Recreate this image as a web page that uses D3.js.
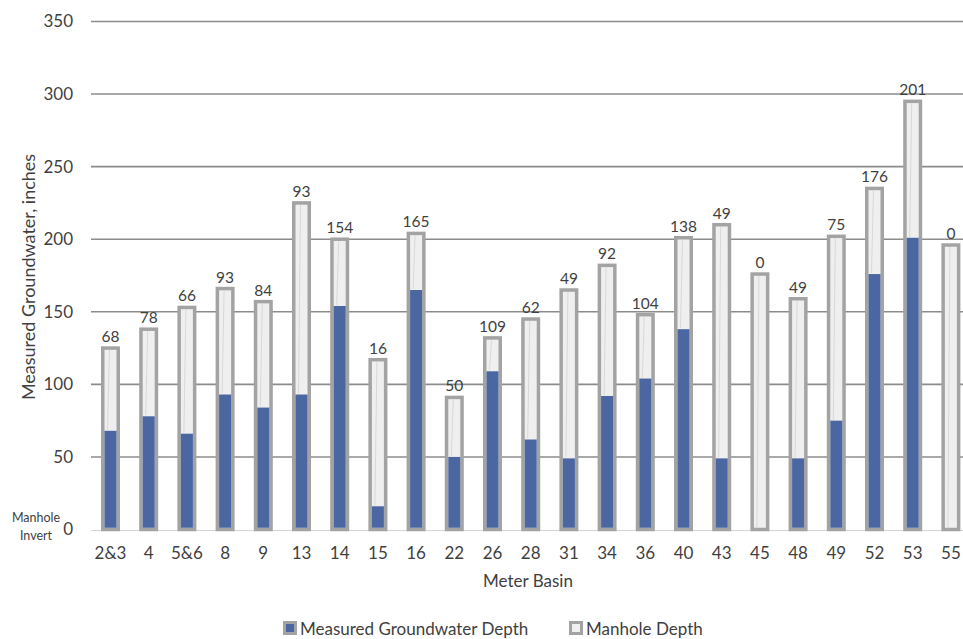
<!DOCTYPE html>
<html><head><meta charset="utf-8">
<script src="https://cdn.jsdelivr.net/npm/d3@7"></script>
<style>
html,body{margin:0;padding:0;background:#fff;}
svg{display:block;font-family:Lato,"Open Sans",sans-serif;}
</style></head>
<body>
<svg id="chart" width="963" height="639"></svg>
<script>
const categories = ["2&3","4","5&6","8","9","13","14","15","16","22","26","28","31","34","36","40","43","45","48","49","52","53","55"];
const groundwater = [68,78,66,93,84,93,154,16,165,50,109,62,49,92,104,138,49,0,49,75,176,201,0];
const manhole = [125,138,153,166,157,225,200,117,204,91,132,145,165,182,148,201,210,176,159,202,235,295,196];
const yTicks = [0,50,100,150,200,250,300,350];
const legendLabels = ["Measured Groundwater Depth","Manhole Depth"];

const data = categories.map((c,i)=>({cat:c, gw:groundwater[i], mh:manhole[i]}));

const svg = d3.select("#chart");
const textCol = "#3f3f3f";
const blue = "#4a67a1";
const border = "#a3a3a3";
const light = "#efefef";

const x = d3.scaleBand().domain(categories).range([91.4, 970]).padding(0);
const y = d3.scaleLinear().domain([0,350]).range([529.5, 21.5]);

// gridlines
const grid = svg.append("g");
grid.selectAll("line").data(yTicks.filter(t=>t>0)).join("line")
  .attr("x1", 91).attr("x2", 970)
  .attr("y1", d=>y(d)).attr("y2", d=>y(d))
  .attr("stroke", "#8c8c8c").attr("stroke-width", 1.6);
grid.append("line").attr("x1",91).attr("x2",970).attr("y1",y(0)+1).attr("y2",y(0)+1)
  .attr("stroke","#d4d4d4").attr("stroke-width",1.2);

// y axis labels
const yAxis = d3.axisLeft(y).tickValues(yTicks).tickSize(0).tickPadding(0);
const yg = svg.append("g").attr("transform","translate(73,0)").call(yAxis);
yg.select(".domain").remove();
yg.selectAll("text").attr("font-size",17).attr("fill",textCol).attr("font-family","Lato,sans-serif");

// x axis labels
const xAxis = d3.axisBottom(x).tickSize(0).tickPadding(0);
const xg = svg.append("g").attr("transform","translate(0,547)").call(xAxis);
xg.select(".domain").remove();
xg.selectAll("text").attr("font-size",17).attr("fill",textCol).attr("font-family","Lato,sans-serif");

// bars
const sw = 3.5;
const bw = 15.5;
const bars = svg.append("g");
const g = bars.selectAll("g").data(data).join("g");
g.append("rect")
  .attr("x", d=>x(d.cat)+x.bandwidth()/2-bw/2)
  .attr("width", bw)
  .attr("y", d=>y(d.mh))
  .attr("height", d=>y(0)-y(d.mh))
  .attr("fill", light).attr("stroke", border).attr("stroke-width", sw);
g.append("line")
  .attr("x1", d=>x(d.cat)+x.bandwidth()/2-1)
  .attr("x2", d=>x(d.cat)+x.bandwidth()/2-3)
  .attr("y1", d=>y(d.mh)+2)
  .attr("y2", d=>y(d.gw)-1)
  .attr("stroke","#d2d2d2").attr("stroke-width",0.8);
g.filter(d=>d.gw>0).append("rect")
  .attr("x", d=>x(d.cat)+x.bandwidth()/2-bw/2+sw/2)
  .attr("width", bw-sw)
  .attr("y", d=>y(d.gw))
  .attr("height", d=>y(0)-sw/2-y(d.gw))
  .attr("fill", blue);
g.append("text")
  .attr("x", d=>x(d.cat)+x.bandwidth()/2)
  .attr("y", d=>y(d.mh)-6)
  .attr("text-anchor","middle")
  .attr("font-size",15.5).attr("fill",textCol)
  .text(d=>d.gw);

// axis titles
svg.append("text").attr("transform","translate(35,277) rotate(-90)")
  .attr("text-anchor","middle").attr("font-size",18).attr("fill",textCol)
  .text("Measured Groundwater, inches");
svg.append("text").attr("x",528).attr("y",587).attr("text-anchor","middle")
  .attr("font-size",17).attr("fill",textCol).text("Meter Basin");

// Manhole Invert
svg.append("text").attr("x",36).attr("y",522).attr("text-anchor","middle")
  .attr("font-size",12.5).attr("fill",textCol).text("Manhole");
svg.append("text").attr("x",36).attr("y",539.5).attr("text-anchor","middle")
  .attr("font-size",12.5).attr("fill",textCol).text("Invert");

// legend
const leg = svg.append("g");
const legX = [283, 569];
legendLabels.forEach((lab,i)=>{
  leg.append("rect").attr("x",legX[i]+1.5).attr("y",622.5).attr("width",11).attr("height",11)
    .attr("fill", i===0?blue:light).attr("stroke",border).attr("stroke-width",3);
  leg.append("text").attr("x",legX[i]+17).attr("y",635).attr("font-size",17)
    .attr("fill",textCol).text(lab);
});
</script>
</body></html>
